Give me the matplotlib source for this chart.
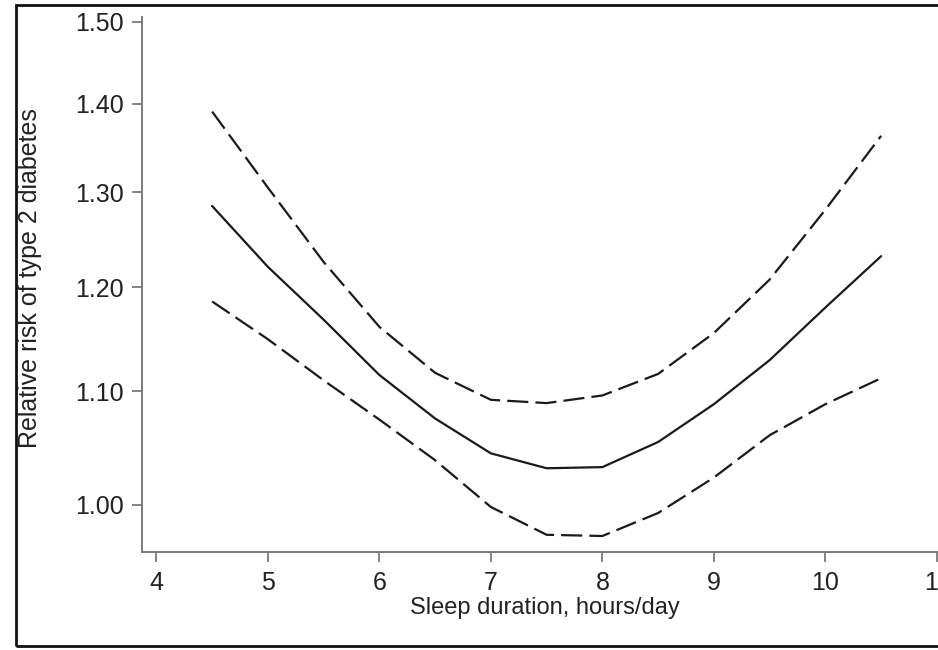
import matplotlib
matplotlib.use("Agg")
import matplotlib.pyplot as plt
from matplotlib.patches import Rectangle
from matplotlib.ticker import FixedLocator, NullLocator

plt.rcParams['font.family'] = ['Liberation Sans', 'DejaVu Sans']

# Data
sleep_hours = [4.5, 5.0, 5.5, 6.0, 6.5, 7.0, 7.5, 8.0, 8.5, 9.0, 9.5, 10.0, 10.5]
rr_estimate = [1.285, 1.221, 1.168, 1.115, 1.075, 1.044, 1.031, 1.032, 1.054, 1.088, 1.129, 1.180, 1.232]
rr_upper = [1.391, 1.305, 1.226, 1.161, 1.117, 1.092, 1.089, 1.096, 1.116, 1.155, 1.208, 1.281, 1.363]
rr_lower = [1.186, 1.149, 1.110, 1.074, 1.038, 0.998, 0.975, 0.974, 0.993, 1.023, 1.060, 1.088, 1.112]

x_ticks = [4, 5, 6, 7, 8, 9, 10, 11]
y_ticks = [1.00, 1.10, 1.20, 1.30, 1.40, 1.50]
y_tick_labels = ["1.00", "1.10", "1.20", "1.30", "1.40", "1.50"]

W, H = 938, 650
fig = plt.figure(figsize=(W / 100, H / 100), dpi=100)
ax = fig.add_axes([142 / W, (H - 552) / H, (W - 142) / W, (552 - 17) / H])

line_col = "#1a1a1a"
ax.plot(sleep_hours, rr_estimate, color=line_col, lw=1.6, solid_capstyle="round")
ax.plot(sleep_hours, rr_upper, color=line_col, lw=1.6, linestyle=(0, (9.5, 3.2)))
ax.plot(sleep_hours, rr_lower, color=line_col, lw=1.6, linestyle=(0, (9.5, 3.2)))

ax.set_yscale("log")
ax.set_xlim(3.871, 11.01)
ax.set_ylim(0.961, 1.506)
ax.yaxis.set_major_locator(FixedLocator(y_ticks))
ax.yaxis.set_minor_locator(NullLocator())
ax.set_yticklabels(y_tick_labels)
ax.set_xticks(x_ticks)
ax.set_xticklabels([str(t) for t in x_ticks])

spine_col = "#7a7a7a"
for s in ["top", "right"]:
    ax.spines[s].set_visible(False)
for s in ["left", "bottom"]:
    ax.spines[s].set_color(spine_col)
    ax.spines[s].set_linewidth(1.4)

ax.tick_params(axis="both", which="major", direction="out", length=7, width=1.3,
               color=spine_col, labelsize=18, labelcolor="#222222")
ax.tick_params(axis="y", pad=6)
ax.tick_params(axis="x", pad=7)

fig.text(30 / W, 1 - 278 / H, "Relative risk of type 2 diabetes", rotation=90,
         ha="center", va="center", fontsize=18, color="#222222")
fig.text(545 / W, 1 - 608 / H, "Sleep duration, hours/day", ha="center", va="center",
         fontsize=17, color="#222222")

# outer frame
fig.patches.append(Rectangle((16 / W, (H - 646) / H), 1.2, (646 - 5) / H,
                             transform=fig.transFigure, fill=False,
                             edgecolor="#111111", lw=2.0, clip_on=False))

fig.savefig("out.png", dpi=100)
